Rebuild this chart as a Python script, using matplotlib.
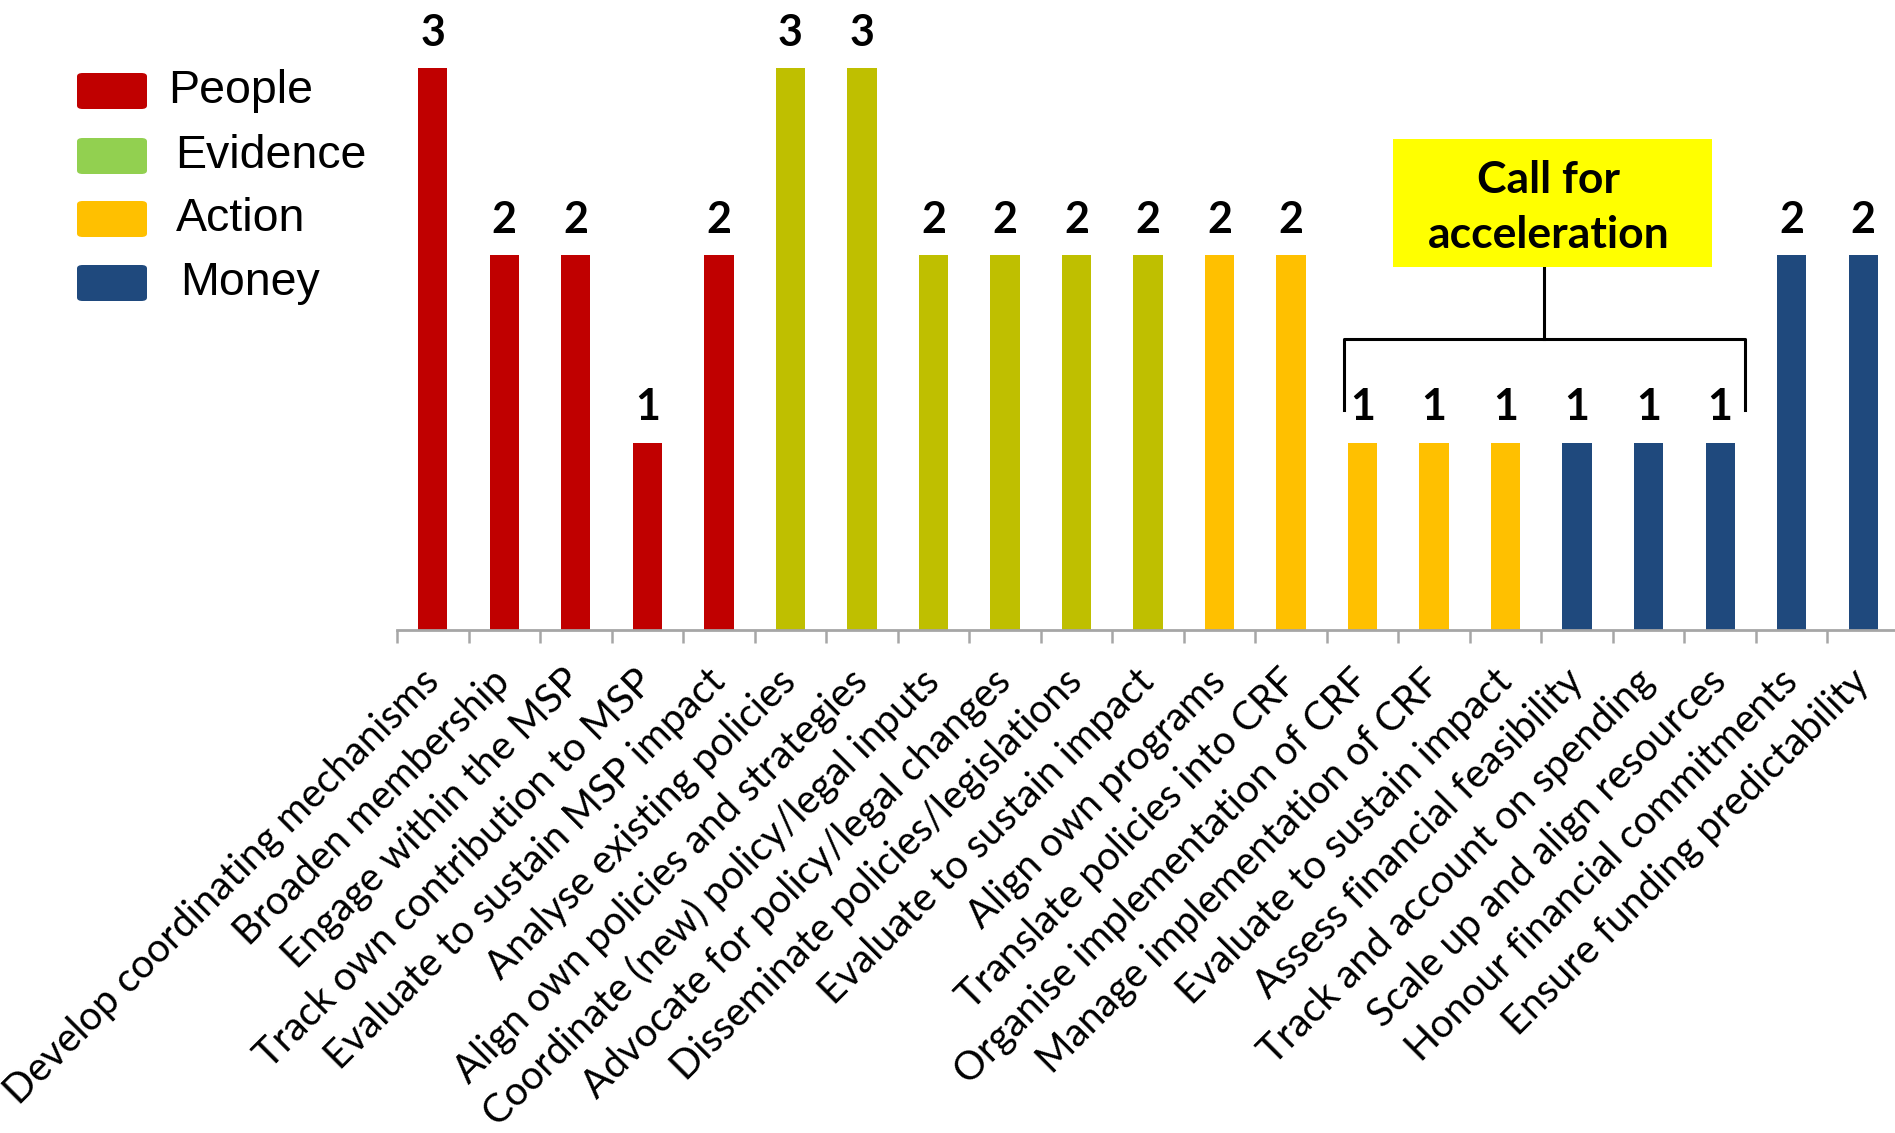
import matplotlib
matplotlib.use("Agg")
import matplotlib.pyplot as plt
from matplotlib.patches import Rectangle, FancyBboxPatch

# categories and scores
people = ["Develop coordinating mechanisms", "Broaden membership", "Engage within the MSP",
          "Track own contribution to MSP", "Evaluate to sustain MSP impact"]
evidence = ["Analyse existing policies", "Align own policies and strategies",
            "Coordinate (new) policy/legal inputs", "Advocate for policy/legal changes",
            "Disseminate policies/legislations", "Evaluate to sustain impact"]
action = ["Align own programs", "Translate policies into CRF", "Organise implementation of CRF",
          "Manage implementation of CRF", "Evaluate to sustain impact"]
money = ["Assess financial feasibility", "Track and account on spending",
         "Scale up and align resources", "Honour financial commitments",
         "Ensure funding predictability"]

people_vals = [3, 2, 2, 1, 2]
evidence_vals = [3, 3, 2, 2, 2, 2]
action_vals = [2, 2, 1, 1, 1]
money_vals = [1, 1, 1, 2, 2]

group_names = ["People", "Evidence", "Action", "Money"]
bar_colors = ["#C00000", "#BFBF00", "#FFC000", "#1F497D"]
legend_colors = ["#C00000", "#92D050", "#FFC000", "#1F497D"]

labels = people + evidence + action + money
values = people_vals + evidence_vals + action_vals + money_vals
colors = ([bar_colors[0]] * len(people) + [bar_colors[1]] * len(evidence)
          + [bar_colors[2]] * len(action) + [bar_colors[3]] * len(money))

# "Call for acceleration" bracket spans these bars
accel_first, accel_last = 13, 18

W, H = 1895, 1133
fig = plt.figure(figsize=(W / 100, H / 100), dpi=100)
ax = fig.add_axes([397 / W, (H - 630) / H, (1899 - 397) / W, 630 / H])

x = list(range(len(values)))
ax.bar(x, values, width=0.41, color=colors, zorder=2)
ax.set_xlim(-0.5, len(values) - 0.5)
ax.set_ylim(0, 630 / 187.3)

for xi, v in zip(x, values):
    ax.text(xi, v + 0.12, str(v), ha="center", va="baseline", fontsize=31,
            fontweight="bold", family="Lato")

for s in ["top", "right", "left"]:
    ax.spines[s].set_visible(False)
ax.spines["bottom"].set_color("#A6A6A6")
ax.spines["bottom"].set_linewidth(2)
ax.set_yticks([])

ax.set_xticks(x)
ax.set_xticklabels(labels, rotation=45, ha="right", va="center",
                   rotation_mode="anchor", fontsize=28.5, family="Lato")
ax.set_xticks([i - 0.5 for i in range(len(values) + 1)], minor=True)
ax.tick_params(axis="x", which="major", length=0, pad=33)
ax.tick_params(axis="x", which="minor", length=9, width=1.8, color="#A6A6A6")

# bracket and callout box
lx = accel_first - 0.26
rx = accel_last + 0.34
mx = (lx + rx) / 2
ax.plot([lx, lx, rx, rx], [1.175, 1.554, 1.554, 1.175], color="black", lw=2.2,
        clip_on=False, zorder=3)
ax.plot([mx, mx], [1.554, 1.938], color="black", lw=2.2, clip_on=False, zorder=3)
box_x, box_w = accel_first + 0.42, 4.47
ax.add_patch(Rectangle((box_x, 1.938), box_w, 0.683, facecolor="#FFFF00",
                       edgecolor="none", clip_on=False, zorder=3))
ax.text(box_x + box_w / 2 - 0.05, 1.938 + 0.683 / 2 - 0.025, "Call for\nacceleration",
        ha="center", va="center", fontsize=32, fontweight="bold", family="Lato",
        linespacing=1.45, zorder=4)

# legend drawn by hand
rows_y = [91, 156, 219, 283]
text_x = [168, 175, 176, 180]
for name, col, yc, tx in zip(group_names, legend_colors, rows_y, text_x):
    fig.add_artist(FancyBboxPatch((77 / W, (H - yc - 18) / H), 70 / W, 36 / H,
                                  boxstyle="round,pad=0,rounding_size=0.003",
                                  transform=fig.transFigure, facecolor=col,
                                  edgecolor="none"))
    fig.text(tx / W, (H - yc) / H, name, ha="left", va="center", fontsize=33.5,
             family="Liberation Sans")

fig.savefig("out.png", dpi=100)
